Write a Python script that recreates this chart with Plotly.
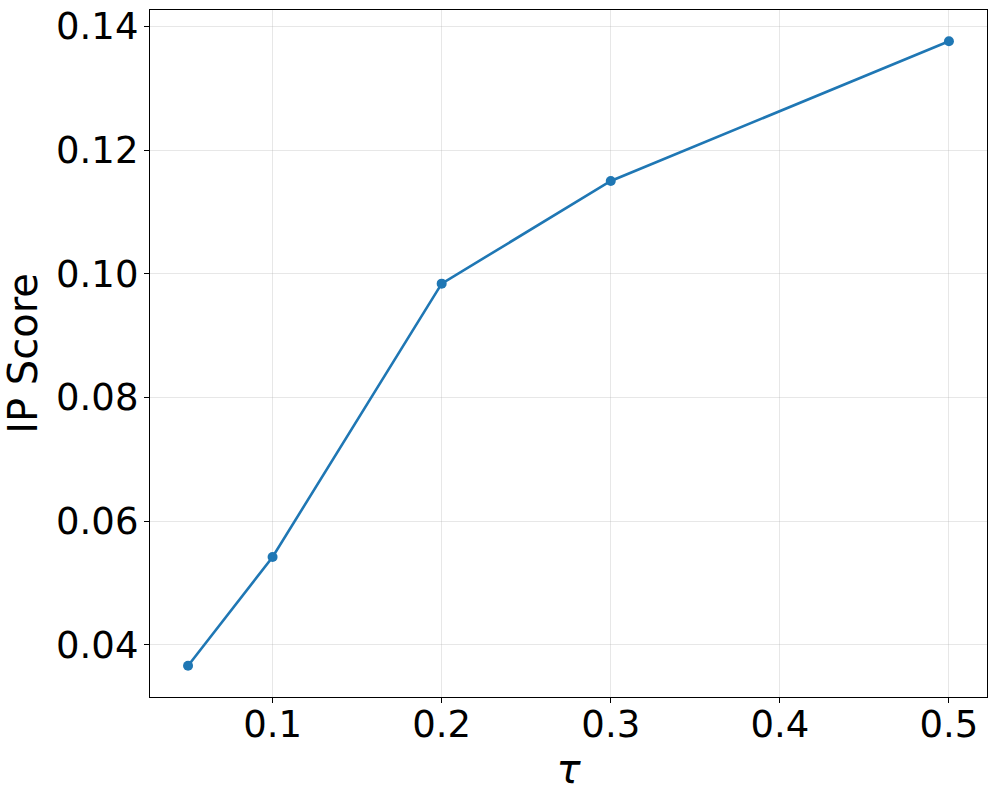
import plotly.graph_objects as go

# values
tau = [0.05, 0.1, 0.2, 0.3, 0.5]
ip_score = [0.0366, 0.0542, 0.0984, 0.1150, 0.1376]
x_ticks = [0.1, 0.2, 0.3, 0.4, 0.5]
y_ticks = [0.04, 0.06, 0.08, 0.10, 0.12, 0.14]

BLUE = "#1f77b4"
FONT = "DejaVu Sans"

fig = go.Figure()
fig.add_trace(
    go.Scatter(
        x=tau,
        y=ip_score,
        mode="lines+markers",
        line={"color": BLUE, "width": 2.6},
        marker={"color": BLUE, "size": 10},
    )
)

axis_common = {
    "showline": True,
    "linecolor": "black",
    "linewidth": 1.3,
    "mirror": True,
    "ticks": "outside",
    "ticklen": 5,
    "tickwidth": 1.3,
    "tickcolor": "black",
    "showgrid": True,
    "gridcolor": "rgba(176,176,176,0.3)",
    "gridwidth": 1,
    "zeroline": False,
    "automargin": False,
    "ticklabeloverflow": "allow",
    "tickfont": {"size": 37, "color": "black", "family": FONT},
}

fig.update_xaxes(
    range=[0.0275, 0.5225],
    tickvals=x_ticks,
    ticktext=[f"{v:.1f}" for v in x_ticks],
    ticklabelstandoff=-11,
    title={"text": "<i>τ</i>", "font": {"size": 40, "family": FONT, "color": "black"}, "standoff": 1},
    **axis_common,
)
fig.update_yaxes(
    range=[0.03155, 0.14265],
    tickvals=y_ticks,
    ticktext=[f"{v:.2f}" for v in y_ticks],
    ticklabelstandoff=-2,
    title={"text": "IP Score", "font": {"size": 40, "family": FONT, "color": "black"}, "standoff": 24},
    **axis_common,
)

fig.update_layout(
    width=997,
    height=800,
    showlegend=False,
    paper_bgcolor="white",
    plot_bgcolor="white",
    margin={"l": 150, "r": 10, "t": 10, "b": 103},
)

# drop the browser's default body margin so the figure sits at the page corner
fig.write_html(
    "out.html",
    config={"displayModeBar": False},
    post_script="document.body.style.margin = '0';",
)
